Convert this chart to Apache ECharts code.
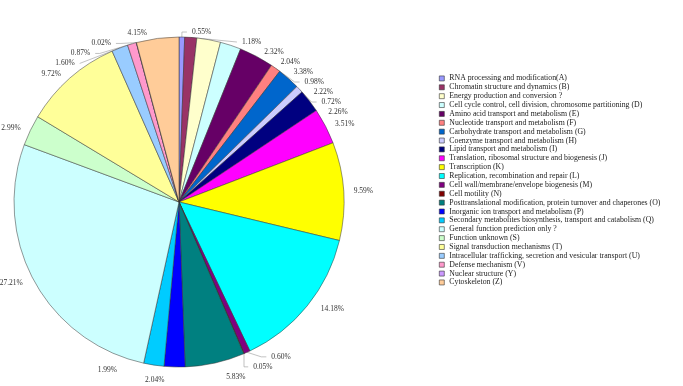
<!DOCTYPE html>
<html>
<head>
<meta charset="utf-8">
<script src="https://cdn.jsdelivr.net/npm/echarts@6/dist/echarts.min.js"></script>
<style>html,body{margin:0;padding:0;background:#fff}#c{width:683px;height:386px}</style>
</head>
<body>
<div id="c"></div>
<script>
const categories = [
  "RNA processing and modification(A)",
  "Chromatin structure and dynamics (B)",
  "Energy production and conversion ?",
  "Cell cycle control, cell division, chromosome partitioning (D)",
  "Amino acid transport and metabolism (E)",
  "Nucleotide transport and metabolism (F)",
  "Carbohydrate transport and metabolism (G)",
  "Coenzyme transport and metabolism (H)",
  "Lipid transport and metabolism (I)",
  "Translation, ribosomal structure and biogenesis (J)",
  "Transcription (K)",
  "Replication, recombination and repair (L)",
  "Cell wall/membrane/envelope biogenesis (M)",
  "Cell motility (N)",
  "Posttranslational modification, protein turnover and chaperones (O)",
  "Inorganic ion transport and metabolism (P)",
  "Secondary metabolites biosynthesis, transport and catabolism (Q)",
  "General function prediction only ?",
  "Function unknown (S)",
  "Signal transduction mechanisms (T)",
  "Intracellular trafficking, secretion and vesicular transport (U)",
  "Defense mechanism (V)",
  "Nuclear structure (Y)",
  "Cytoskeleton (Z)"
];
const values = [0.55, 1.18, 2.32, 2.04, 3.38, 0.98, 2.22, 0.72, 2.26, 3.51, 9.59, 14.18, 0.60, 0.05, 5.83, 2.04, 1.99, 27.21, 2.99, 9.72, 1.60, 0.87, 0.02, 4.15];
const colors = ["#9999FF","#993366","#FFFFCC","#CCFFFF","#660066","#FF8080","#0066CC","#CCCCFF","#000080","#FF00FF","#FFFF00","#00FFFF","#800080","#800000","#008080","#0000FF","#00CCFF","#CCFFFF","#CCFFCC","#FFFF99","#99CCFF","#FF99CC","#CC99FF","#FFCC99"];

const chart = echarts.init(document.getElementById('c'), null, {renderer: 'canvas'});
chart.setOption({
  animation: false,
  color: colors,
  legend: {
    orient: 'vertical',
    left: 434,
    top: 69,
    itemWidth: 5,
    itemHeight: 5,
    itemGap: 0,
    icon: 'rect',
    itemStyle: {borderColor: '#333', borderWidth: 0.6},
    textStyle: {fontFamily: 'Liberation Serif', fontSize: 7.8, color: '#222', lineHeight: 8.87},
    data: categories
  },
  series: [{
    type: 'pie',
    center: [179, 202],
    radius: [0, 165],
    startAngle: 90,
    clockwise: true,
    avoidLabelOverlap: true,
    minShowLabelAngle: 0,
    itemStyle: {borderColor: '#333', borderWidth: 0.5},
    label: {
      show: true,
      position: 'outside',
      overflow: 'none',
      distance: 2,
      fontFamily: 'Liberation Serif',
      fontSize: 7.5,
      color: '#333',
      formatter: p => p.value.toFixed(2) + '%'
    },
    labelLine: {show: true, length: 5, length2: 5, lineStyle: {color: '#999', width: 0.6}},
    emphasis: {disabled: true},
    data: categories.map((n, i) => ({
      name: n,
      value: values[i],
      labelLine: {show: values[i] < 1.7}
    }))
  }]
});
</script>
</body>
</html>
